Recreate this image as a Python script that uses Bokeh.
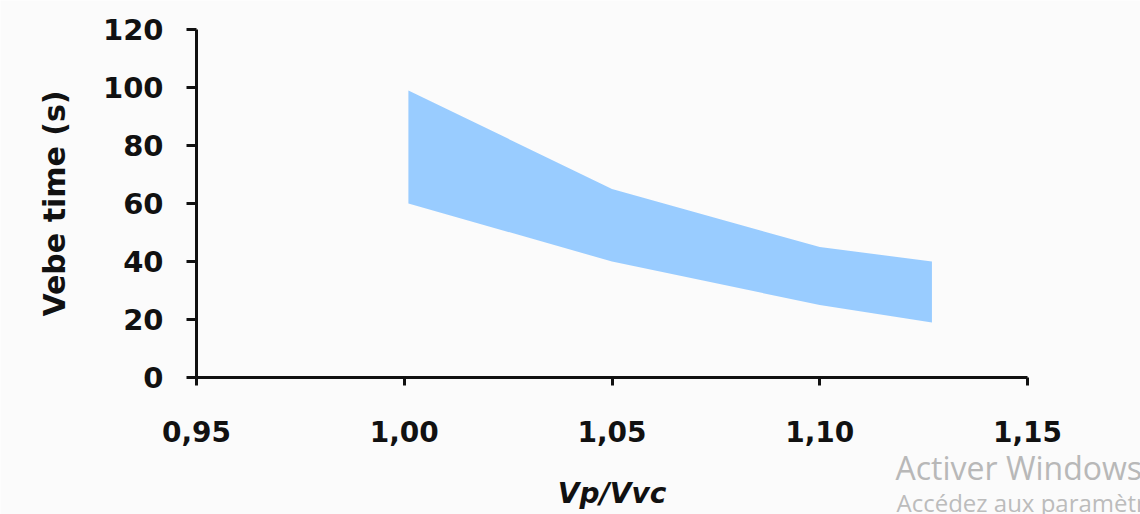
from bokeh.plotting import figure
from bokeh.models import FixedTicker, Label, Range1d
from bokeh.embed import file_html
from bokeh.resources import INLINE

# data
ratio = [1.001, 1.05, 1.10, 1.127]
upper_time = [99.0, 65.0, 45.0, 40.0]
lower_time = [60.0, 40.0, 25.0, 19.0]
x_ticks = [0.95, 1.00, 1.05, 1.10, 1.15]
x_tick_labels = ["0,95", "1,00", "1,05", "1,10", "1,15"]
y_ticks = [0, 20, 40, 60, 80, 100, 120]
x_title = "Vp/Vvc"
y_title = "Vebe time (s)"
watermark = ["Activer Windows", "Accédez aux paramètres pour activer Windows."]

W, H = 1140, 514
# pixel geometry of the plotting area
X0_PX, X1_PX = 196, 1027      # x = 0.95 .. 1.15
Y0_PX, Y1_PX = 377, 29        # y = 0 .. 120
sx = (X1_PX - X0_PX) / (x_ticks[-1] - x_ticks[0])
sy = (Y0_PX - Y1_PX) / (y_ticks[-1] - y_ticks[0])
def xd(px):
    return x_ticks[0] + (px - X0_PX) / sx
def yd(py):
    return y_ticks[0] + (Y0_PX - py) / sy

BG = "#fbfbfb"
FONT = "DejaVu Sans"

p = figure(width=W, height=H, output_backend="svg", toolbar_location=None,
           x_range=Range1d(xd(0), xd(W)), y_range=Range1d(yd(H), yd(0)),
           min_border=0)
p.background_fill_color = BG
p.border_fill_color = BG
p.outline_line_color = None
p.grid.visible = False

p.varea(x=ratio, y1=lower_time, y2=upper_time, fill_color="#99ccff", fill_alpha=1.0)

for ax in (p.xaxis[0], p.yaxis[0]):
    ax.axis_line_width = 3
    ax.axis_line_color = "#111111"
    ax.major_tick_line_width = 3
    ax.major_tick_line_color = "#111111"
    ax.minor_tick_line_color = None
    ax.major_tick_in = 0
    ax.major_label_text_font = FONT
    ax.major_label_text_font_style = "bold"
    ax.major_label_text_font_size = "28px"
    ax.major_label_text_color = "#111111"
    ax.axis_label_text_font = FONT
    ax.axis_label_text_color = "#111111"

xa = p.xaxis[0]
xa.fixed_location = y_ticks[0]
xa.bounds = (x_ticks[0], x_ticks[-1])
xa.ticker = FixedTicker(ticks=x_ticks)
xa.major_label_overrides = {t: l for t, l in zip(x_ticks, x_tick_labels)}
xa.major_tick_out = 8
xa.major_label_standoff = 35
xa.axis_label = x_title
xa.axis_label_text_font_style = "bold italic"
xa.axis_label_text_font_size = "28px"
xa.axis_label_standoff = 32

ya = p.yaxis[0]
ya.fixed_location = x_ticks[0]
ya.bounds = (y_ticks[0], y_ticks[-1])
ya.ticker = FixedTicker(ticks=y_ticks)
ya.major_label_text_font_size = "29px"
ya.major_tick_out = 10
ya.major_label_standoff = 23
ya.axis_label = y_title
ya.axis_label_text_font_style = "bold"
ya.axis_label_text_font_size = "30px"
ya.axis_label_standoff = 28

p.add_layout(Label(x=xd(895), y=yd(467), text=watermark[0], text_font="Open Sans",
                   text_font_size="32px", text_color="#b8b8b8",
                   text_align="left", text_baseline="alphabetic"))
p.add_layout(Label(x=xd(896), y=yd(502), text=watermark[1], text_font="Open Sans",
                   text_font_size="24px", text_color="#bcbcbc",
                   text_align="left", text_baseline="alphabetic"))

open("out.html", "w").write(file_html(p, INLINE))
